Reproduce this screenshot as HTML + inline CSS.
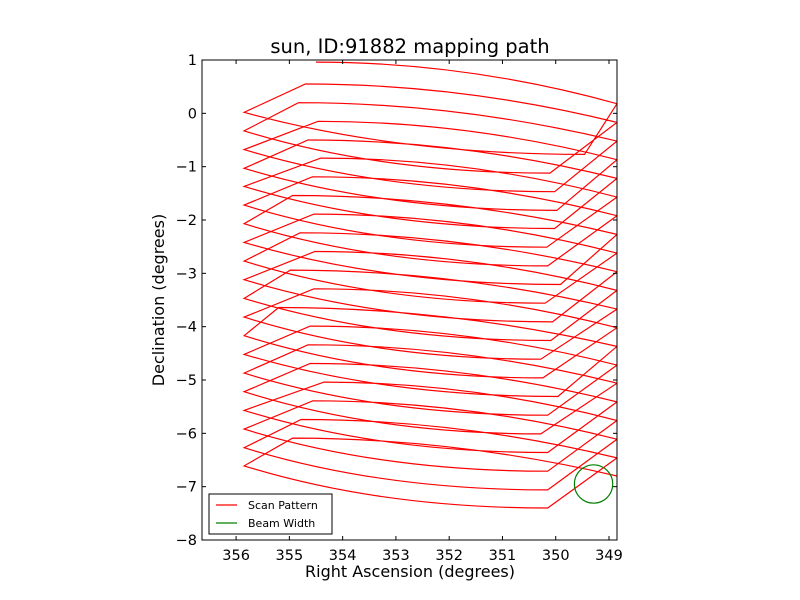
<!DOCTYPE html>
<html><head><meta charset="utf-8"><style>
body{margin:0;background:#fff;}
svg{display:block;font-family:"DejaVu Sans","Liberation Sans",sans-serif;}
</style></head><body>
<svg id="chart" width="800" height="600" viewBox="0 0 800 600">
<rect x="0" y="0" width="800" height="600" fill="#fff"/>
<text x="410" y="53" font-size="19.5" text-anchor="middle">sun, ID:91882 mapping path</text>
<g id="plot"></g>
<text x="410" y="577" font-size="16" text-anchor="middle">Right Ascension (degrees)</text>
<text x="164" y="300" font-size="16" text-anchor="middle" transform="rotate(-90 164 300)">Declination (degrees)</text>
</svg>
<script>
const xTicks=[356,355,354,353,352,351,350,349];
const yTicks=[1,0,-1,-2,-3,-4,-5,-6,-7,-8];
const leftRA=355.85;
const rightRA=348.85;
const leftDec=[0.02,-0.33,-0.68,-1.03,-1.37,-1.72,-2.07,-2.42,-2.77,-3.12,-3.47,-3.82,-4.17,-4.52,-4.87,-5.22,-5.57,-5.92,-6.27,-6.61];
const endRA=[349.46,350.11,350.02,349.98,350.02,350.17,350.15,349.91,350.20,350.06,350.09,350.28,350.24,349.96,350.15,350.28,350.15,350.15,350.15,350.15];
const endDec=[-0.77,-1.12,-1.47,-1.82,-2.16,-2.51,-2.86,-3.21,-3.56,-3.91,-4.26,-4.61,-4.96,-5.31,-5.66,-6.01,-6.36,-6.71,-7.06,-7.40];
const rightDec=[0.18,-0.17,-0.52,-0.87,-1.22,-1.57,-1.92,-2.27,-2.62,-2.97,-3.32,-3.67,-4.02,-4.37,-4.72,-5.06,-5.41,-5.76,-6.11,-6.46,-6.80];
const peakRA=[354.70,354.83,354.46,354.65,354.41,354.57,354.94,354.54,354.80,354.52,354.98,354.54,355.20,354.61,354.65,354.61,354.35,354.56,354.78,354.94];
const peakDec=[0.55,0.20,-0.15,-0.50,-0.84,-1.19,-1.54,-1.89,-2.24,-2.59,-2.94,-3.29,-3.64,-3.99,-4.34,-4.69,-5.04,-5.39,-5.74,-6.09];
const topStart=[354.50,0.96];
const beam=[349.29,-6.95,0.36];

const X0=202,X1=617,Y0=60,Y1=540;
const raMax=356.64, raMin=348.85, decMax=1, decMin=-8;
function sx(ra){return X0+(raMax-ra)/(raMax-raMin)*(X1-X0);}
function sy(d){return Y0+(decMax-d)/(decMax-decMin)*(Y1-Y0);}
const NS='http://www.w3.org/2000/svg';
const plot=document.getElementById('plot');
function mk(tag,attrs,parent){const e=document.createElementNS(NS,tag);for(const k in attrs)e.setAttribute(k,attrs[k]);(parent||plot).appendChild(e);return e;}

const defs=mk('defs',{});
const cp=mk('clipPath',{id:'clip'},defs);
mk('rect',{x:X0,y:Y0,width:X1-X0,height:Y1-Y0},cp);

const n=leftDec.length;
let d='';
function P(ra,dec){return sx(ra).toFixed(1)+' '+sy(dec).toFixed(1);}
function curveRtoP(rd,pra,pd){
  const rx=sx(rightRA), px=sx(pra);
  const cx=px+0.5*(rx-px), cy=sy(pd);
  return ' Q '+cx.toFixed(1)+' '+cy.toFixed(1)+' '+P(pra,pd);
}
d+='M '+P(rightRA,rightDec[n]);
for(let k=n-1;k>=0;k--){
  d+=curveRtoP(rightDec[k+1],peakRA[k],peakDec[k]);
  d+=' L '+P(leftRA,leftDec[k]);
  const lx=sx(leftRA), ex=sx(endRA[k]);
  const cx=lx+0.45*(ex-lx), cy=sy(endDec[k]);
  d+=' Q '+cx.toFixed(1)+' '+cy.toFixed(1)+' '+P(endRA[k],endDec[k]);
  d+=' L '+P(rightRA,rightDec[k]);
}
d+=curveRtoP(rightDec[0],topStart[0],topStart[1]);
const path=mk('path',{d:d,fill:'none',stroke:'#ff0000','stroke-width':1.2,'clip-path':'url(#clip)'});



const circ=mk('ellipse',{cx:sx(beam[0]),cy:sy(beam[1]),rx:Math.abs(sx(beam[0]+beam[2])-sx(beam[0])),ry:Math.abs(sy(beam[1]+beam[2])-sy(beam[1])),fill:'none',stroke:'#008000','stroke-width':1.2});



const fr=mk('rect',{x:X0,y:Y0,width:X1-X0,height:Y1-Y0,fill:'none',stroke:'#000','stroke-width':1});



xTicks.forEach(t=>{
  const x=sx(t);
  mk('line',{x1:x,y1:Y1,x2:x,y2:Y1-4,stroke:'#000'});
  mk('line',{x1:x,y1:Y0,x2:x,y2:Y0+4,stroke:'#000'});
  const tx=mk('text',{x:x,y:Y1+20,'font-size':14.5,'text-anchor':'middle'});
  tx.textContent=String(t);
  
  
});
yTicks.forEach(t=>{
  const y=sy(t);
  mk('line',{x1:X0,y1:y,x2:X0+4,y2:y,stroke:'#000'});
  mk('line',{x1:X1,y1:y,x2:X1-4,y2:y,stroke:'#000'});
  const tx=mk('text',{x:X0-5,y:y+5,'font-size':14.5,'text-anchor':'end'});
  tx.textContent=t<0?'\u2212'+Math.abs(t):String(t);
  
  
});

const lg=mk('g',{});


mk('rect',{x:209,y:494,width:123,height:40,fill:'#fff',stroke:'#000','stroke-width':1},lg);
mk('line',{x1:216,y1:505,x2:237,y2:505,stroke:'#ff0000','stroke-width':1.2},lg);
mk('line',{x1:216,y1:523,x2:237,y2:523,stroke:'#008000','stroke-width':1.2},lg);
const t1=mk('text',{x:248,y:509,'font-size':11},lg);t1.textContent='Scan Pattern';


const t2=mk('text',{x:248,y:527,'font-size':11},lg);t2.textContent='Beam Width';


</script>
</body></html>
